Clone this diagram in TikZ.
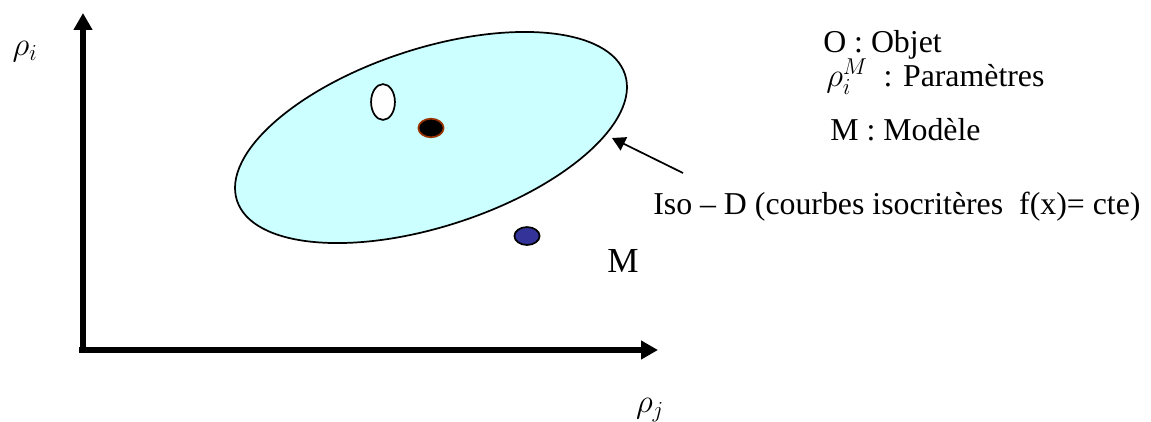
\documentclass[tikz,border=0pt]{standalone}
\usepackage{fontspec}
\setmainfont{Liberation Serif}
\usepackage{tikz}
\usetikzlibrary{arrows.meta,shapes.geometric}

\begin{document}
\begin{tikzpicture}[x=0.0265cm, y=-0.0265cm,  axis/.style={line width=4.5pt, -{Triangle[length=12.75pt, width=13.5pt]}},  blob/.style={ellipse, draw, line width=1.3pt, inner sep=0pt},  pointer/.style={line width=1.3pt, -{Triangle[length=10pt, width=11pt]}},  lab/.style={font=\fontsize{24}{28}\selectfont, inner sep=0pt}]
\useasboundingbox (0,0) rectangle (1151,421);
%%%%%%%%%%%%%%%%%%%%%%%%%%%%%%%%%%%%%%%%%%%%%%%%%%
% axes
%%%%%%%%%%%%%%%%%%%%%%%%%%%%%%%%%%%%%%%%%%%%%%%%%%
  \coordinate (o) at (83,350);
  \coordinate (ytop) at (83,13);
  \coordinate (xend) at (658,350);
  \draw[axis] (o)--(ytop);
  \draw[axis] ([xshift=-3]o)--(xend);
  \node[lab] (ylab) at (25,52) {$\rho_i$};
  \node[lab] (xlab) at (650,410) {$\rho_j$};
%%%%%%%%%%%%%%%%%%%%%%%%%%%%%%%%%%%%%%%%%%%%%%%%%%
% iso-criteria curve and points
%%%%%%%%%%%%%%%%%%%%%%%%%%%%%%%%%%%%%%%%%%%%%%%%%%
  \draw[line width=1.3pt, fill={rgb,255:red,204;green,255;blue,255}, rotate around={18:(431,137.5)}] (431,137.5) ellipse (204 and 89);
  \node[blob, fill=white, minimum width=18pt, minimum height=27pt] (obj) at (383,102) {};
  \node[blob, draw={rgb,255:red,153;green,51;blue,0}, fill=black, minimum width=19pt, minimum height=14pt] (par) at (431,128) {};
  \node[blob, fill={rgb,255:red,51;green,51;blue,153}, minimum width=19pt, minimum height=13.5pt] (mod) at (527,236) {};
  \node[lab, font=\fontsize{26.5}{30}\selectfont, anchor=base west] (mlab) at (607,272) {M};
%%%%%%%%%%%%%%%%%%%%%%%%%%%%%%%%%%%%%%%%%%%%%%%%%%
% legend
%%%%%%%%%%%%%%%%%%%%%%%%%%%%%%%%%%%%%%%%%%%%%%%%%%
  \node[lab, anchor=base west] (lo) at (823,52) {O : Objet};
  \node[lab, anchor=base west] (lp) at (826,86) {$\rho_i^M$\ \ : Paramètres};
  \node[lab, anchor=base west] (lm) at (830,140) {M : Modèle};
  \node[lab, anchor=base west] (iso) at (653,214) {Iso -- D (courbes isocritères\ \ f(x)= cte)};
  \coordinate (tail) at (683,173);
  \coordinate (tip) at (612,138);
  \draw[pointer] (tail)--(tip);
\end{tikzpicture}
\end{document}
